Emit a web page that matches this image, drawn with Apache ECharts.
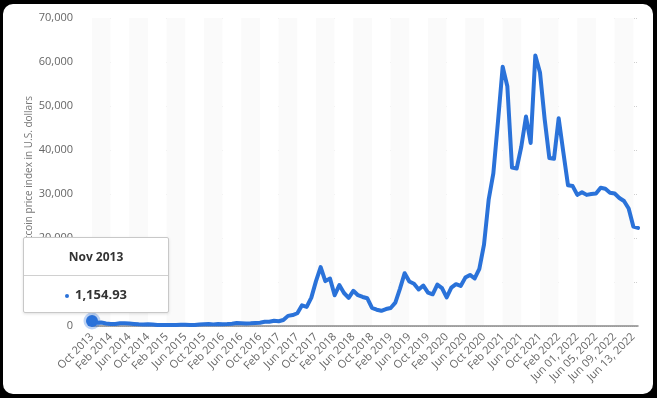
<!DOCTYPE html>
<html>
<head>
<meta charset="utf-8">
<script src="https://cdn.jsdelivr.net/npm/echarts@6/dist/echarts.min.js"></script>
<style>
  html, body { margin: 0; padding: 0; background: #000; }
  #frame { position: absolute; left: 3px; top: 4px; width: 650px; height: 390px; background: #fff; border-radius: 10px; }
  #main { position: absolute; left: 0; top: 0; width: 657px; height: 398px; }
</style>
</head>
<body>
<div id="frame"></div>
<div id="main"></div>
<script>
// axis categories, as printed under the chart
var months = [
  'Oct 2013', 'Nov 2013', 'Dec 2013',
  'Jan 2014', 'Feb 2014', 'Mar 2014', 'Apr 2014', 'May 2014', 'Jun 2014', 'Jul 2014', 'Aug 2014', 'Sep 2014', 'Oct 2014', 'Nov 2014', 'Dec 2014',
  'Jan 2015', 'Feb 2015', 'Mar 2015', 'Apr 2015', 'May 2015', 'Jun 2015', 'Jul 2015', 'Aug 2015', 'Sep 2015', 'Oct 2015', 'Nov 2015', 'Dec 2015',
  'Jan 2016', 'Feb 2016', 'Mar 2016', 'Apr 2016', 'May 2016', 'Jun 2016', 'Jul 2016', 'Aug 2016', 'Sep 2016', 'Oct 2016', 'Nov 2016', 'Dec 2016',
  'Jan 2017', 'Feb 2017', 'Mar 2017', 'Apr 2017', 'May 2017', 'Jun 2017', 'Jul 2017', 'Aug 2017', 'Sep 2017', 'Oct 2017', 'Nov 2017', 'Dec 2017',
  'Jan 2018', 'Feb 2018', 'Mar 2018', 'Apr 2018', 'May 2018', 'Jun 2018', 'Jul 2018', 'Aug 2018', 'Sep 2018', 'Oct 2018', 'Nov 2018', 'Dec 2018',
  'Jan 2019', 'Feb 2019', 'Mar 2019', 'Apr 2019', 'May 2019', 'Jun 2019', 'Jul 2019', 'Aug 2019', 'Sep 2019', 'Oct 2019', 'Nov 2019', 'Dec 2019',
  'Jan 2020', 'Feb 2020', 'Mar 2020', 'Apr 2020', 'May 2020', 'Jun 2020', 'Jul 2020', 'Aug 2020', 'Sep 2020', 'Oct 2020', 'Nov 2020', 'Dec 2020',
  'Jan 2021', 'Feb 2021', 'Mar 2021', 'Apr 2021', 'May 2021', 'Jun 2021', 'Jul 2021', 'Aug 2021', 'Sep 2021', 'Oct 2021', 'Nov 2021', 'Dec 2021',
  'Jan 2022', 'Feb 2022', 'Mar 2022', 'Apr 2022', 'May 2022'
];
var days = [
  'Jun 01, 2022', 'Jun 02, 2022', 'Jun 03, 2022', 'Jun 04, 2022', 'Jun 05, 2022', 'Jun 06, 2022', 'Jun 07, 2022',
  'Jun 08, 2022', 'Jun 09, 2022', 'Jun 10, 2022', 'Jun 11, 2022', 'Jun 12, 2022', 'Jun 13, 2022', 'Jun 14, 2022'
];

// price index in U.S. dollars, monthly then daily
var monthlyPrices = [
  1154.93, 760, 810, 580, 460, 450, 630, 640, 590, 480, 390, 340,
  380, 320, 220, 255, 245, 235, 230, 265, 285, 230, 237, 315,
  378, 430, 370, 437, 416, 450, 530, 670, 625, 575, 610, 700,
  745, 960, 970, 1190, 1080, 1350, 2300, 2480, 2900, 4700, 4350, 6450,
  10200, 13400, 10200, 10800, 7000, 9300, 7500, 6400, 8000, 7000, 6600, 6300,
  4100, 3700, 3450, 3850, 4100, 5300, 8500, 12000, 10100, 9600, 8300, 9200,
  7600, 7200, 9400, 8600, 6500, 8700, 9500, 9100, 11000, 11600, 10800, 13000,
  18500, 28700, 34700, 46500, 58900, 54500, 36000, 35800, 40800, 47600, 41600, 61500,
  57600, 47000, 38200, 38000, 47200, 39500, 32000, 31800
];
var dailyPrices = [29800, 30400, 29800, 30000, 30100, 31400, 31200, 30300, 30100, 29100, 28400, 26700, 22600, 22300];

var yTicks = [0, 10000, 20000, 30000, 40000, 50000, 60000, 70000];
var tipTitle = 'Nov 2013';
var lineColor = '#2a72d9';

var categories = months.concat(days);
var values = monthlyPrices.concat(dailyPrices);

var seriesData = values.map(function (v, i) {
  if (i === 0) {
    return {
      value: v,
      symbol: 'circle',
      symbolSize: 12,
      itemStyle: { color: lineColor, borderColor: 'rgba(42,114,217,0.3)', borderWidth: 5 }
    };
  }
  return v;
});

function fmt(n) {
  return n.toLocaleString('en-US', { minimumFractionDigits: n % 1 ? 2 : 0, maximumFractionDigits: 2 });
}

var myChart = echarts.init(document.getElementById('main'));
myChart.setOption({
  animation: false,
  textStyle: { fontFamily: 'Open Sans' },
  grid: { left: 92, right: 19, top: 18, bottom: 72 },
  tooltip: {
    trigger: 'item',
    triggerOn: 'none',
    alwaysShowContent: true,
    transitionDuration: 0,
    padding: 0,
    borderColor: '#c8c8c8',
    borderWidth: 1,
    borderRadius: 2,
    backgroundColor: '#fff',
    extraCssText: 'box-shadow: 0 1px 3px rgba(0,0,0,0.12);',
    position: [23, 237],
    formatter: function (p) {
      var v = typeof p.value === 'object' ? p.value.value : p.value;
      return '<div style="width:144px;font-family:\'Open Sans\';color:#333;">' +
        '<div style="text-align:center;font-weight:bold;font-size:12px;line-height:37px;border-bottom:1px solid #d0d0d0;">' + tipTitle + '</div>' +
        '<div style="text-align:center;font-weight:bold;font-size:13px;line-height:36px;">' +
        '<span style="display:inline-block;width:4px;height:4px;border-radius:2px;background:' + lineColor + ';vertical-align:middle;margin-right:6px;"></span>' +
        fmt(v) + '</div></div>';
    }
  },
  xAxis: {
    type: 'category',
    data: categories,
    boundaryGap: false,
    axisLine: { lineStyle: { color: '#8a8a8a', width: 1.5 } },
    axisTick: { show: false },
    axisLabel: { interval: 3, rotate: 45, color: '#666', fontSize: 11, margin: 9 },
    splitLine: { show: false },
    splitArea: { show: true, interval: 3, areaStyle: { color: ['#fafafa', '#ffffff'] } }
  },
  yAxis: {
    type: 'value',
    min: yTicks[0],
    max: yTicks[yTicks.length - 1],
    interval: 10000,
    name: 'Bitcoin price index in U.S. dollars',
    nameLocation: 'middle',
    nameGap: 58,
    nameMoveOverlap: false,
    nameTextStyle: { color: '#777', fontSize: 10 },
    axisLine: { show: false },
    axisTick: { show: false },
    axisLabel: { color: '#666', fontSize: 11, margin: 19, formatter: function (v) { return fmt(v); } },
    splitLine: { lineStyle: { color: '#cfcfcf', type: 'dotted' } }
  },
  series: [{
    type: 'line',
    data: seriesData,
    symbol: 'none',
    showSymbol: true,
    showAllSymbol: true,
    lineStyle: { color: lineColor, width: 4, cap: 'round', join: 'round' },
    itemStyle: { color: lineColor },
    z: 3
  }]
});

myChart.dispatchAction({ type: 'showTip', seriesIndex: 0, dataIndex: 0 });
</script>
</body>
</html>
